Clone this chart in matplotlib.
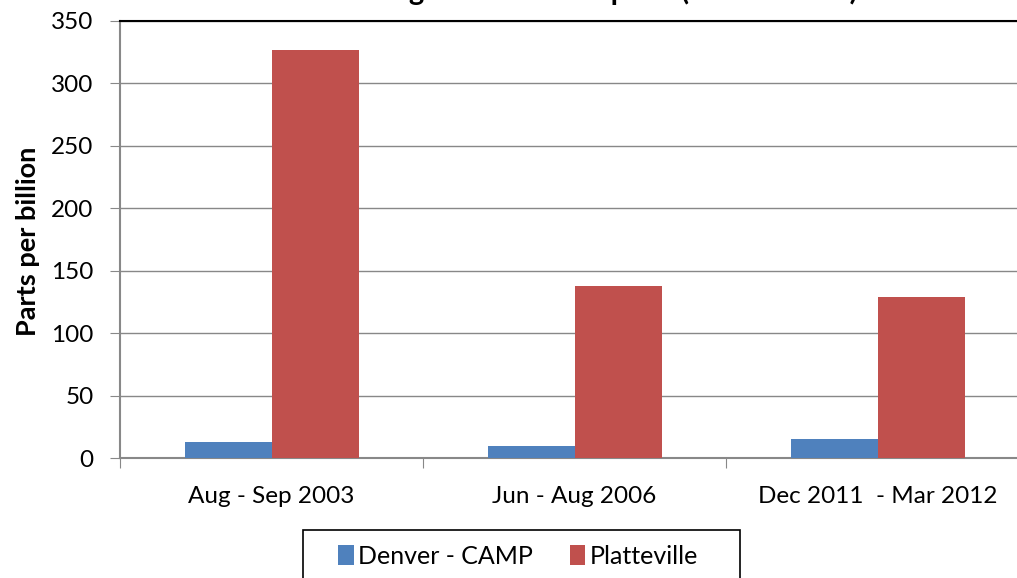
import numpy as np
import matplotlib.pyplot as plt
from matplotlib.patches import Rectangle

plt.rcParams["font.family"] = ["Lato", "DejaVu Sans"]

periods = ["Aug - Sep 2003", "Jun - Aug 2006", "Dec 2011  - Mar 2012"]
denver = [13, 10, 15]
platteville = [327, 138, 129]
series_names = ["Denver - CAMP", "Platteville"]
colors = ["#4F81BD", "#C0504D"]


def main():
    fig = plt.figure(figsize=(10.17, 5.78), dpi=100)
    W, H = 1017, 578
    ax = fig.add_axes([0.118, 0.2076, 0.894, 0.7561])

    x = np.arange(len(periods))
    w = 0.287
    ax.bar(x - w / 2, denver, w, color=colors[0], label=series_names[0], zorder=3)
    ax.bar(x + w / 2, platteville, w, color=colors[1], label=series_names[1], zorder=3)

    ax.set_xlim(-0.5, len(periods) - 0.5)
    ax.set_ylim(0, 350)
    ax.set_yticks(np.arange(0, 351, 50))
    ax.tick_params(axis="y", labelsize=17.5, length=7, color="#888888", pad=12)

    # category labels at centers, ticks at the boundaries
    ax.set_xticks(np.arange(len(periods) + 1) - 0.5)
    ax.set_xticklabels([])
    ax.set_xticks(x, minor=True)
    ax.set_xticklabels(periods, minor=True)
    ax.tick_params(axis="x", which="major", length=7, color="#888888")
    ax.tick_params(axis="x", which="minor", length=0, labelsize=17.5, pad=20)

    ax.grid(axis="y", color="#888888", linewidth=1, zorder=0)
    ax.spines["right"].set_visible(False)
    ax.spines["top"].set_color("#000000")
    ax.spines["top"].set_linewidth(1.5)
    for side in ["left", "bottom"]:
        ax.spines[side].set_color("#888888")
        ax.spines[side].set_linewidth(1.5)

    ax.set_ylabel("Parts per billion", fontsize=19.5, fontweight="bold")
    ax.yaxis.set_label_coords(-0.088, 0.496)

    fig.text(0.585, 1.0, "Average Ambient Propane (2003 - 2012)", ha="center",
             va="baseline", fontsize=21, fontweight="bold")

    # legend box runs past the bottom edge, as in the original
    fig.patches.append(Rectangle((303 / W, -0.1), (740 - 303) / W, 0.1 + 1 - 530 / H,
                                 transform=fig.transFigure, fill=False,
                                 edgecolor="black", linewidth=1.2))
    fig.legend(loc="center left", bbox_to_anchor=(338 / W, 1 - 556 / H), ncol=2,
               fontsize=18, frameon=False, handlelength=0.62, handleheight=0.85,
               handletextpad=0.2, columnspacing=1.45, borderpad=0, borderaxespad=0)

    fig.savefig("out.png", dpi=100)


if __name__ == "__main__":
    main()
